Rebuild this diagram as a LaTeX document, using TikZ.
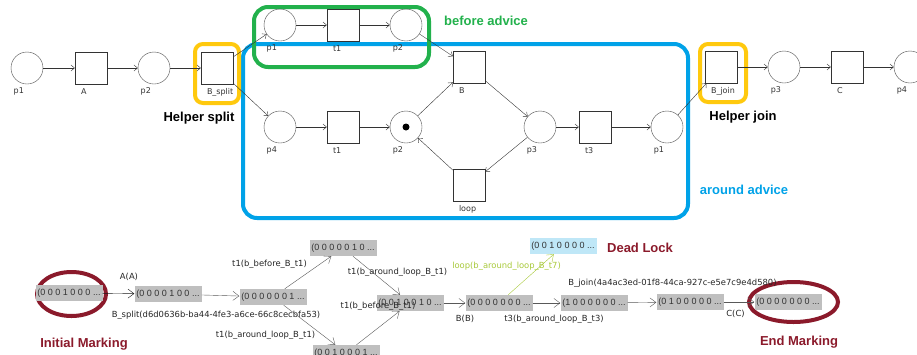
\documentclass[tikz,border=0pt]{standalone}
\usepackage{fontspec}
\setmainfont{Liberation Sans}
\newfontfamily\netfont{DejaVu Sans}
\usetikzlibrary{arrows.meta}

\definecolor{paintgreen}{HTML}{22B14C}
\definecolor{paintblue}{HTML}{00A2E8}
\definecolor{paintgold}{HTML}{FFC90E}
\definecolor{markred}{HTML}{8B1A2B}
\definecolor{limeedge}{HTML}{A8C93A}
\definecolor{deadblue}{HTML}{BFE7F7}

\tikzset{
  plabel/.style={font=\netfont\fontsize{8}{9}\selectfont, text=black!80, inner sep=0pt},
  place/.style={circle, draw=black!70, minimum size=32pt, inner sep=0pt,
    label={[plabel, anchor=north west, xshift=-2pt, yshift=-8pt]south west:#1}},
  trans/.style={rectangle, draw=black!80, minimum size=32pt, inner sep=0pt,
    label={[plabel, anchor=north west, xshift=6pt, yshift=-4pt]south west:#1}},
  arc/.style={draw=black!80, -{Straight Barb[length=3.5pt,width=6pt]}},
  marking/.style={fill=black!25, minimum width=67pt, minimum height=16pt,
    inner sep=1pt, font=\fontsize{9}{10}\selectfont, text=black!80},
  firing/.style={draw=black!65, -{Straight Barb[length=6pt,width=9pt]}},
  elabel/.style={font=\netfont\fontsize{8.4}{9}\selectfont, text=black!85, inner sep=0pt},
  note/.style={font=\bfseries\fontsize{13}{15}\selectfont},
  advice/.style={rounded corners=14pt, line width=4pt},
}

\begin{document}
\begin{tikzpicture}[x=1pt, y=-1pt]
\useasboundingbox (0,0) rectangle (917,354);

% aspect boxes
\draw[advice, paintblue] (243,44) rectangle (688,218);
\draw[advice, paintgreen] (254,7) rectangle (429,67);
\draw[advice, paintgold, rounded corners=8pt] (195,44) rectangle (239,103);
\draw[advice, paintgold, rounded corners=8pt] (700,44) rectangle (746,102);

% base net
\node[place=p1] (p1) at (27,68) {};
\node[trans=A] (A) at (91,68) {};
\node[place=p2] (p2) at (154,68) {};
\node[trans=B\_split] (Bsplit) at (217,68) {};
\node[trans=B] (B) at (469,67) {};
\node[trans=B\_join] (Bjoin) at (721,67) {};
\node[place=p3] (p3) at (784,67) {};
\node[trans=C] (C) at (847,67) {};
\node[place=p4] (p4) at (910,67) {};

% before advice
\node[place=p1] (bp1) at (280,25) {};
\node[trans=t1] (bt1) at (343,25) {};
\node[place=p2] (bp2) at (406,25) {};

% around advice
\node[place=p4] (ap4) at (280,127) {};
\node[trans=t1] (at1) at (343,127) {};
\node[place=p2] (ap2) at (406,127) {};
\node[place=p3] (ap3) at (540,127) {};
\node[trans=t3] (at3) at (595,127) {};
\node[place=p1] (ap1) at (667,127) {};
\node[trans=loop] (loop) at (469,185) {};
\fill (ap2) circle [radius=3.5pt];

\path [arc] (p1) edge (A);
\path [arc] (A) edge (p2);
\path [arc] (p2) edge (Bsplit);
\path [arc] (Bsplit) edge (bp1);
\path [arc] (Bsplit) edge (ap4);
\path [arc] (bp1) edge (bt1);
\path [arc] (bt1) edge (bp2);
\path [arc] (bp2) edge (B);
\path [arc] (ap4) edge (at1);
\path [arc] (at1) edge (ap2);
\path [arc] (ap2) edge (B);
\path [arc] (B) edge (ap3);
\path [arc] (ap3) edge (at3);
\path [arc] (at3) edge (ap1);
\path [arc] (ap3) edge (loop);
\path [arc] (loop) edge (ap2);
\path [arc] (ap1) edge (Bjoin);
\path [arc] (Bjoin) edge (p3);
\path [arc] (p3) edge (C);
\path [arc] (C) edge (p4);

\node[note] (hsplit) at (199,118) {Helper split};
\node[note] (hjoin) at (743,117) {Helper join};
\node[note, text=paintgreen] (before) at (486,21) {before advice};
\node[note, text=paintblue] (around) at (744,190) {around advice};

% reachability graph
\begin{scope}
  \clip (35,260) rectangle (120,330);
  \draw[markred, line width=4pt] (71.5,294) ellipse [x radius=34.5pt, y radius=22pt];
\end{scope}
\draw[markred, line width=4pt] (793.5,302) ellipse [x radius=44.5pt, y radius=20pt];

\node[marking] (m0) at (69,293) {(0 0 0 1 0 0 0 ...};
\node[marking] (m1) at (168,294) {(0 0 0 0 1 0 0 ...};
\node[marking] (m2) at (273,297) {(0 0 0 0 0 0 1 ...};
\node[marking] (m3) at (343,248) {(0 0 0 0 0 1 0 ...};
\node[marking] (m4) at (410,303) {(0 0 1 0 0 1 0 ...};
\node[marking] (m5) at (346,353) {(0 0 1 0 0 0 1 ...};
\node[marking] (m6) at (499,303) {(0 0 0 0 0 0 0 ...};
\node[marking, fill=deadblue] (m7) at (563,246) {(0 0 1 0 0 0 0 ...};
\node[marking] (m8) at (594,303) {(1 0 0 0 0 0 0 ...};
\node[marking] (m9) at (690,302) {(0 1 0 0 0 0 0 ...};
\node[marking] (m10) at (788,302) {(0 0 0 0 0 0 0 ...};

\path [firing, draw=black!90] (m0) edge node[elabel, xshift=10.5pt, yshift=17pt] {A(A)} (m1);
\path [firing] (m1) edge node[elabel, xshift=-4.5pt, yshift=-19.5pt] {B\_split(d6d0636b-ba44-4fe3-a6ce-66c8cecbfa53)} (m2);
\path [firing] (m2) edge node[elabel, xshift=-38.5pt, yshift=8.5pt] {t1(b\_before\_B\_t1)} (m3);
\path [firing] (m2) edge node[elabel, xshift=-44pt, yshift=-10pt] {t1(b\_around\_loop\_B\_t1)} (m5);
\path [firing] (m3) edge node[elabel, xshift=21pt, yshift=3.5pt] {t1(b\_around\_loop\_B\_t1)} (m4);
\path [firing] (m5) edge node[elabel, yshift=22pt] {t1(b\_before\_B\_t1)} (m4);
\path [firing] (m4) edge node[elabel, xshift=10.5pt, yshift=-16pt] {B(B)} (m6);
\path [firing, draw=limeedge] (m6) edge node[elabel, text=limeedge, xshift=-24.5pt, yshift=8.5pt] {loop(b\_around\_loop\_B\_t7)} (m7);
\path [firing] (m6) edge node[elabel, xshift=7.5pt, yshift=-16pt] {t3(b\_around\_loop\_B\_t3)} (m8);
\path [firing] (m8) edge node[elabel, xshift=30.5pt, yshift=19.5pt] {B\_join(4a4ac3ed-01f8-44ca-927c-e5e7c9e4d580)} (m9);
\path [firing] (m9) edge node[elabel, xshift=-3.5pt, yshift=-12pt] {C(C)} (m10);

\node[note, text=markred] (initial) at (84,344) {Initial Marking};
\node[note, text=markred] (dead) at (640,248) {Dead Lock};
\node[note, text=markred] (final) at (799,342) {End Marking};
\end{tikzpicture}
\end{document}
